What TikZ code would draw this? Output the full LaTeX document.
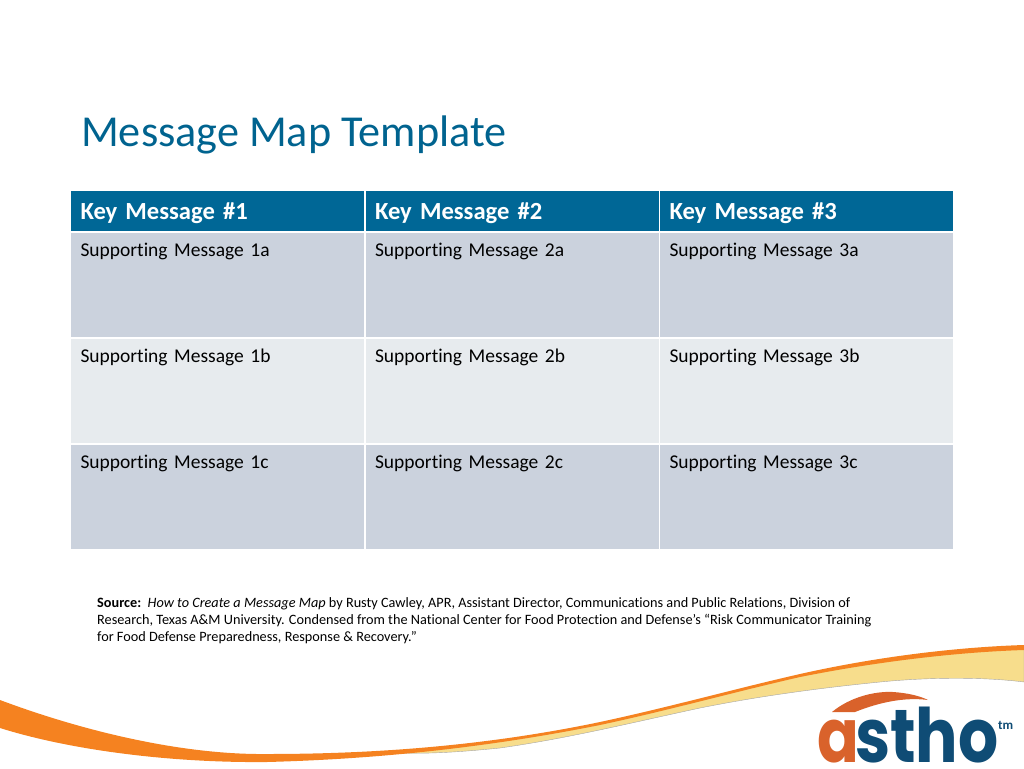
\documentclass[tikz,border=0pt]{standalone}
\usepackage{fontspec}
\usepackage[]{xcolor}
\setmainfont[Ligatures=CommonOff]{Carlito}
\newfontfamily\logofont{Poppins}
\definecolor{titleblue}{HTML}{00638F}
\definecolor{headblue}{HTML}{006796}
\definecolor{rowdark}{HTML}{CBD2DD}
\definecolor{rowlight}{HTML}{E7EBEE}
\definecolor{swooshorange}{HTML}{F58220}
\definecolor{swooshyellow}{HTML}{F7DD8C}
\definecolor{logoorange}{HTML}{D9622B}
\definecolor{logoblue}{HTML}{0F4C75}

\begin{document}
\begin{tikzpicture}[
            x=1pt, y=-1pt,
            node distance=294.5pt,
            keycell/.style={rectangle, fill=headblue, text=white, font=\fontsize{24.6}{28}\selectfont\bfseries, minimum width=293pt, text width=274pt, inner xsep=9.5pt, inner ysep=4pt, text height=24pt, text depth=8pt, align=left},
            supportcell/.style={rectangle, minimum width=293pt, text width=274pt, inner xsep=9.5pt, inner ysep=4pt, text height=19pt, text depth=77pt, align=left, font=\fontsize{19.5}{22}\selectfont},
            darkcell/.style={supportcell, fill=rowdark},
            lightcell/.style={supportcell, fill=rowlight}
        ]
            \useasboundingbox (0,0) rectangle (1024,768);

            \node[anchor=base west, inner sep=0pt, text=titleblue, font=\fontsize{44.2}{50}\selectfont] (title) at (81,146) {Message Map Template};

            \node[keycell] (K1) at (217.5,211) {Key Message \#1};
            \node[keycell, right of=K1] (K2) {Key Message \#2};
            \node[keycell, right of=K2] (K3) {Key Message \#3};

            \node[darkcell, below of=K1, node distance=74pt] (S1a) {Supporting Message 1a};
            \node[darkcell, right of=S1a] (S2a) {Supporting Message 2a};
            \node[darkcell, right of=S2a] (S3a) {Supporting Message 3a};

            \node[lightcell, below of=S1a, node distance=106pt] (S1b) {Supporting Message 1b};
            \node[lightcell, right of=S1b] (S2b) {Supporting Message 2b};
            \node[lightcell, right of=S2b] (S3b) {Supporting Message 3b};

            \node[darkcell, below of=S1b, node distance=106pt] (S1c) {Supporting Message 1c};
            \node[darkcell, right of=S1c] (S2c) {Supporting Message 2c};
            \node[darkcell, right of=S2c] (S3c) {Supporting Message 3c};

            \node[anchor=north west, inner sep=0pt, align=left, font=\fontsize{14.26}{17}\selectfont] (source) at (97,597) {\textbf{Source:}\ \ \textit{How to Create a Message Map} by Rusty Cawley, APR, Assistant Director, Communications and Public Relations, Division of\\
            Research, Texas A\&M University. Condensed from the National Center for Food Protection and Defense’s “Risk Communicator Training\\
            for Food Defense Preparedness, Response \& Recovery.”};

            % swoosh
            \fill[swooshyellow, draw=black!35, line width=0.4pt] (395,753) .. controls (430,754) and (460,752) .. (500,748)
                .. controls (570,738) and (630,723) .. (700,708)
                .. controls (760,696) and (820,688) .. (880,682)
                .. controls (930,677) and (985,677) .. (1024,682)
                -- (1024,648) .. controls (960,650) and (880,659) .. (800,676)
                .. controls (730,692) and (670,708) .. (600,723)
                .. controls (540,735) and (470,746) .. (395,753) -- cycle;
            \fill[swooshorange] (0,700) .. controls (80,730) and (180,755) .. (267,754)
                .. controls (380,754) and (490,745) .. (600,722)
                .. controls (670,707) and (730,690) .. (800,674)
                .. controls (880,656) and (960,647) .. (1024,645)
                -- (1024,650) .. controls (960,652) and (880,661) .. (800,677)
                .. controls (730,693) and (670,710) .. (600,725)
                .. controls (490,747) and (380,759) .. (267,762)
                .. controls (170,763) and (70,750) .. (0,728) -- cycle;

            % logo
            \fill[logoorange] (832,712) .. controls (850,697) and (875,691) .. (893,692)
                .. controls (908,693) and (920,696) .. (928,700)
                .. controls (905,697) and (880,702) .. (855,712) -- cycle;
            \node[anchor=base west, inner sep=0pt, text=logoorange, font=\logofont\bfseries\fontsize{75}{80}\selectfont, xscale=0.82] (logoa) at (817,762) {a};
            \node[anchor=base west, inner sep=0pt, text=logoblue, font=\logofont\bfseries\fontsize{75}{80}\selectfont, xscale=0.84] (logob) at (855,762) {stho};
            \node[anchor=base west, inner sep=0pt, text=logoblue, font=\fontsize{13}{15}\selectfont\bfseries] (logotm) at (998,729) {tm};
        \end{tikzpicture}
\end{document}
